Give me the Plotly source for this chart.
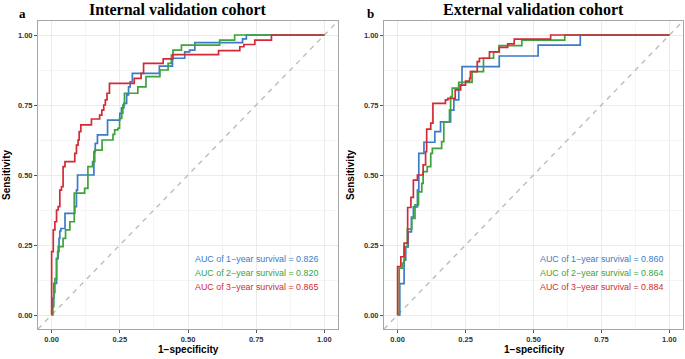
import plotly.graph_objects as go

# ---------------- data ----------------
panel_titles = ["Internal validation cohort", "External validation cohort"]
panel_tags = ["a", "b"]
series_names = ["1-year survival", "2-year survival", "3-year survival"]
series_colors = ["#3B7BC8", "#3DA33A", "#D42A36"]

auc_a = [0.826, 0.820, 0.865]
auc_b = [0.860, 0.864, 0.884]

# Panel a (internal)
fpr_a_1y = [0, 0.003, 0.008, 0.018, 0.024, 0.027, 0.030, 0.034, 0.049, 0.085, 0.091, 0.095, 0.155, 0.160, 0.168,
            0.205, 0.250, 0.256, 0.265, 0.275, 0.282, 0.288, 0.296, 0.395, 0.443, 0.488, 0.506, 0.525, 0.700, 0.714, 1.0]
tpr_a_1y = [0, 0.060, 0.113, 0.202, 0.226, 0.274, 0.300, 0.309, 0.363, 0.387, 0.446, 0.500, 0.583, 0.613, 0.643,
            0.696, 0.720, 0.740, 0.756, 0.786, 0.815, 0.833, 0.863, 0.889, 0.917, 0.940, 0.946, 0.973, 0.986, 1.0, 1.0]

fpr_a_2y = [0, 0.004, 0.008, 0.012, 0.018, 0.022, 0.024, 0.042, 0.051, 0.067, 0.083, 0.121, 0.133, 0.150, 0.158,
            0.185, 0.225, 0.231, 0.243, 0.249, 0.257, 0.261, 0.267, 0.316, 0.346, 0.397, 0.427, 0.439, 0.445,
            0.476, 0.616, 0.671, 1.0]
tpr_a_2y = [0, 0.030, 0.080, 0.130, 0.200, 0.226, 0.244, 0.274, 0.304, 0.333, 0.435, 0.452, 0.530, 0.548, 0.589,
            0.625, 0.645, 0.661, 0.667, 0.702, 0.720, 0.750, 0.792, 0.815, 0.851, 0.875, 0.899, 0.928, 0.946,
            0.964, 0.982, 1.0, 1.0]

fpr_a_3y = [0, 0, 0.006, 0.012, 0.018, 0.024, 0.030, 0.036, 0.042, 0.049, 0.085, 0.091, 0.097, 0.101, 0.107,
            0.146, 0.176, 0.184, 0.191, 0.197, 0.203, 0.212, 0.303, 0.328, 0.337, 0.409, 0.445, 0.612, 0.690,
            0.705, 0.745, 0.806, 1.0]
tpr_a_3y = [0, 0.226, 0.304, 0.333, 0.375, 0.387, 0.446, 0.458, 0.530, 0.548, 0.577, 0.607, 0.625, 0.655, 0.679,
            0.700, 0.714, 0.732, 0.750, 0.768, 0.792, 0.827, 0.845, 0.863, 0.899, 0.915, 0.930, 0.944, 0.958,
            0.966, 0.982, 1.0, 1.0]

# Panel b (external)
fpr_b_1y = [0, 0.008, 0.024, 0.030, 0.039, 0.051, 0.058, 0.073, 0.078, 0.097, 0.137, 0.158, 0.195, 0.207, 0.225,
            0.237, 0.374, 0.517, 0.672, 1.0]
tpr_b_1y = [0, 0.112, 0.196, 0.243, 0.297, 0.350, 0.386, 0.446, 0.577, 0.617, 0.655, 0.690, 0.732, 0.768, 0.821,
            0.887, 0.925, 0.964, 1.0, 1.0]

fpr_b_2y = [0, 0.006, 0.018, 0.024, 0.036, 0.052, 0.064, 0.077, 0.089, 0.094, 0.109, 0.122, 0.128, 0.162, 0.170,
            0.191, 0.195, 0.201, 0.225, 0.274, 0.316, 0.353, 0.373, 0.457, 0.615, 1.0]
tpr_b_2y = [0, 0.167, 0.185, 0.244, 0.307, 0.345, 0.393, 0.440, 0.470, 0.512, 0.530, 0.577, 0.595, 0.619, 0.690,
            0.732, 0.780, 0.810, 0.831, 0.869, 0.917, 0.940, 0.962, 0.982, 1.0, 1.0]

fpr_b_3y = [0, 0, 0.012, 0.024, 0.037, 0.049, 0.058, 0.073, 0.094, 0.103, 0.107, 0.122, 0.130, 0.176, 0.185,
            0.212, 0.232, 0.250, 0.265, 0.268, 0.293, 0.301, 0.338, 0.374, 0.405, 0.429, 0.563, 1.0]
tpr_b_3y = [0, 0.173, 0.208, 0.257, 0.384, 0.420, 0.482, 0.500, 0.536, 0.583, 0.664, 0.685, 0.756, 0.768, 0.774,
            0.804, 0.821, 0.835, 0.845, 0.869, 0.905, 0.917, 0.940, 0.956, 0.968, 0.985, 1.0, 1.0]

diag_ref = [-0.05, 1.05]
tick_vals = [0, 0.25, 0.5, 0.75, 1.0]
tick_text = ["0.00", "0.25", "0.50", "0.75", "1.00"]
x_label = "1\u2212specificity"
y_label = "Sensitivity"

# ---------------- figure ----------------
W, H = 685, 359
fig = go.Figure()

panels = [
    ("x", "y", [(fpr_a_1y, tpr_a_1y), (fpr_a_2y, tpr_a_2y), (fpr_a_3y, tpr_a_3y)], auc_a),
    ("x2", "y2", [(fpr_b_1y, tpr_b_1y), (fpr_b_2y, tpr_b_2y), (fpr_b_3y, tpr_b_3y)], auc_b),
]

for xa, ya, curves, aucs in panels:
    fig.add_trace(go.Scatter(x=diag_ref, y=diag_ref, mode="lines", xaxis=xa, yaxis=ya,
                             line=dict(color="#BDBDBD", width=1.4, dash="5px,5px"),
                             showlegend=False, hoverinfo="skip"))
    for (fx, ty), col, nm in zip(curves, series_colors, series_names):
        fig.add_trace(go.Scatter(x=fx, y=ty, mode="lines", xaxis=xa, yaxis=ya, name=nm,
                                 line=dict(color=col, width=1.7, shape="hv"), showlegend=False))
    for i, (auc, col, nm) in enumerate(zip(aucs, series_colors, series_names)):
        fig.add_annotation(x=0.75, y=0.2 - 0.05 * i, xref=xa, yref=ya,
                           text=f"AUC of {nm.replace('-', chr(0x2212))} = {auc:.3f}",
                           showarrow=False, xanchor="center", yanchor="middle",
                           font=dict(family="Liberation Sans, Arial", size=8.9, color=col))

def px_x(p):
    return p / W

def px_y(p):
    return 1 - p / H

dom_a = [px_x(38), px_x(338)]
dom_b = [px_x(384), px_x(683)]
dom_y = [px_y(329), px_y(21)]

axis_common = dict(
    range=[-0.05, 1.05], tickvals=tick_vals, ticktext=tick_text,
    showgrid=True, gridcolor="#EBEBEB", gridwidth=1,
    minor=dict(showgrid=True, gridcolor="#F4F4F4", gridwidth=0.8, tick0=0.125, dtick=0.25),
    zeroline=False, showline=True, mirror=True, linecolor="#A6A6A6", linewidth=1,
    ticks="outside", ticklen=3, tickcolor="#555555", tickwidth=1,
    tickfont=dict(family="Liberation Sans, Arial", size=7.5, color="#333333", weight="bold"),
)

fig.update_layout(
    width=W, height=H, margin=dict(l=0, r=0, t=0, b=0),
    paper_bgcolor="white", plot_bgcolor="white",
    xaxis=dict(domain=dom_a, anchor="y", **axis_common),
    yaxis=dict(domain=dom_y, anchor="x", **axis_common),
    xaxis2=dict(domain=dom_b, anchor="y2", **axis_common),
    yaxis2=dict(domain=dom_y, anchor="x2", **axis_common),
)

# Titles, tags and axis labels
title_font = dict(family="Liberation Serif, Times New Roman", size=16, color="black", weight="bold")
tag_font = dict(family="Liberation Serif, Times New Roman", size=13, color="black", weight="bold")
lab_font = dict(family="Liberation Sans, Arial", size=10, color="black", weight="bold")

for title, tag, tcx, tagx, xlabx, ylabx in [
    (panel_titles[0], panel_tags[0], 178, 22, 188.5, 6),
    (panel_titles[1], panel_tags[1], 533, 370.5, 534, 350),
]:
    fig.add_annotation(x=px_x(tcx), y=px_y(0), xref="paper", yref="paper", text=title, showarrow=False,
                       xanchor="center", yanchor="top", borderpad=0, font=title_font)
    fig.add_annotation(x=px_x(tagx), y=px_y(13), xref="paper", yref="paper", text=tag, showarrow=False,
                       xanchor="center", yanchor="middle", font=tag_font)
    fig.add_annotation(x=px_x(xlabx), y=px_y(349), xref="paper", yref="paper", text=x_label, showarrow=False,
                       xanchor="center", yanchor="middle", font=lab_font)
    fig.add_annotation(x=px_x(ylabx), y=px_y(175), xref="paper", yref="paper", text=y_label, showarrow=False,
                       xanchor="center", yanchor="middle", textangle=-90, font=lab_font)

fig.write_html("out.html", config={"displayModeBar": False},
               post_script="document.body.style.margin='0px';document.body.style.overflow='hidden';")
